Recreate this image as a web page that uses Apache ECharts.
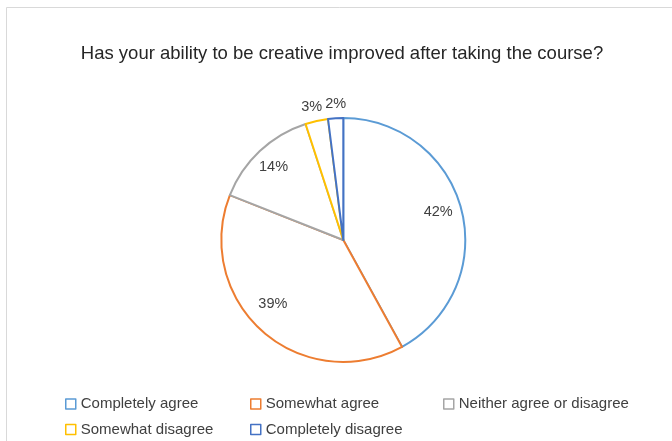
<!DOCTYPE html>
<html>
<head>
<meta charset="utf-8">
<script src="https://cdn.jsdelivr.net/npm/echarts@6/dist/echarts.min.js"></script>
<style>
html,body{margin:0;padding:0;background:#fff;}
#chart{width:672px;height:441px;}
</style>
</head>
<body>
<div id="chart"></div>
<script>
var categories = ['Completely agree', 'Somewhat agree', 'Neither agree or disagree', 'Somewhat disagree', 'Completely disagree'];
var percentages = [42, 39, 14, 3, 2];
var colors = ['#5B9BD5', '#ED7D31', '#A5A5A5', '#FFC000', '#4472C4'];
var titleText = 'Has your ability to be creative improved after taking the course?';

var FONT = 'Liberation Sans';
var center = [343.3, 240];
var R = 122;

// legend item placement (icon left x, row center y)
var legendPos = [[65, 404], [250, 404], [443, 404], [65, 429.5], [250, 429.5]];

var mainData = categories.map(function (c, i) {
  return { name: c, value: percentages[i], itemStyle: { color: '#ffffff', borderColor: colors[i], borderWidth: 2 } };
});
var labelData = categories.map(function (c, i) {
  return { name: c, value: percentages[i] };
});

var legends = categories.map(function (c, i) {
  return {
    left: legendPos[i][0], top: legendPos[i][1] - 8, padding: 0,
    orient: 'horizontal',
    icon: 'rect', itemWidth: 10, itemHeight: 10,
    data: [{ name: c, itemStyle: { color: '#ffffff', borderColor: colors[i], borderWidth: 1.5 } }],
    textStyle: { fontFamily: FONT, fontSize: 15, color: '#404040', lineHeight: 16 },
    selectedMode: false
  };
});

var chart = echarts.init(document.getElementById('chart'), null, { renderer: 'canvas' });
chart.setOption({
  animation: false,
  backgroundColor: '#ffffff',
  graphic: [{
    type: 'rect', silent: true,
    shape: { x: 6.5, y: 7.5, width: 700, height: 500 },
    style: { fill: 'none', stroke: '#D9D9D9', lineWidth: 1 }
  }],
  title: {
    text: titleText,
    left: 342, top: 44, textAlign: 'center', padding: 0,
    textStyle: { fontFamily: FONT, fontSize: 18.5, fontWeight: 'normal', color: '#262626' }
  },
  legend: legends,
  series: [{
    type: 'pie',
    center: center, radius: [0, R],
    startAngle: 90, clockwise: true,
    silent: true,
    label: { show: false }, labelLine: { show: false },
    data: mainData
  }, {
    type: 'pie',
    center: center, radius: [70, R],
    startAngle: 90, clockwise: true,
    silent: true, z: 3,
    itemStyle: { color: 'rgba(0,0,0,0)', borderWidth: 0 },
    label: {
      show: true, position: 'inside',
      fontFamily: FONT, fontSize: 14.5, color: '#404040',
      formatter: function (p) { return p.value >= 5 ? p.value + '%' : ''; }
    },
    labelLine: { show: false },
    data: labelData.map(function (d, i) {
      var o = { name: d.name, value: d.value };
      if (i === 0) o.label = { offset: [-1, -3] };
      if (i === 1) o.label = { offset: [-5, -10] };
      if (i === 2) o.label = { offset: [-2, -1] };
      return o;
    })
  }, {
    type: 'pie',
    center: center, radius: [123, 143],
    startAngle: 90, clockwise: true,
    silent: true, z: 3,
    itemStyle: { color: 'rgba(0,0,0,0)', borderWidth: 0 },
    label: {
      show: true, position: 'inside',
      fontFamily: FONT, fontSize: 14.5, color: '#404040',
      formatter: function (p) { return p.value < 5 ? p.value + '%' : ''; }
    },
    labelLine: { show: false },
    data: labelData.map(function (d, i) {
      var o = { name: d.name, value: d.value };
      if (i === 3) o.label = { offset: [-2, 0] };
      if (i === 4) o.label = { offset: [1, 0] };
      return o;
    })
  }]
});
</script>
</body>
</html>
